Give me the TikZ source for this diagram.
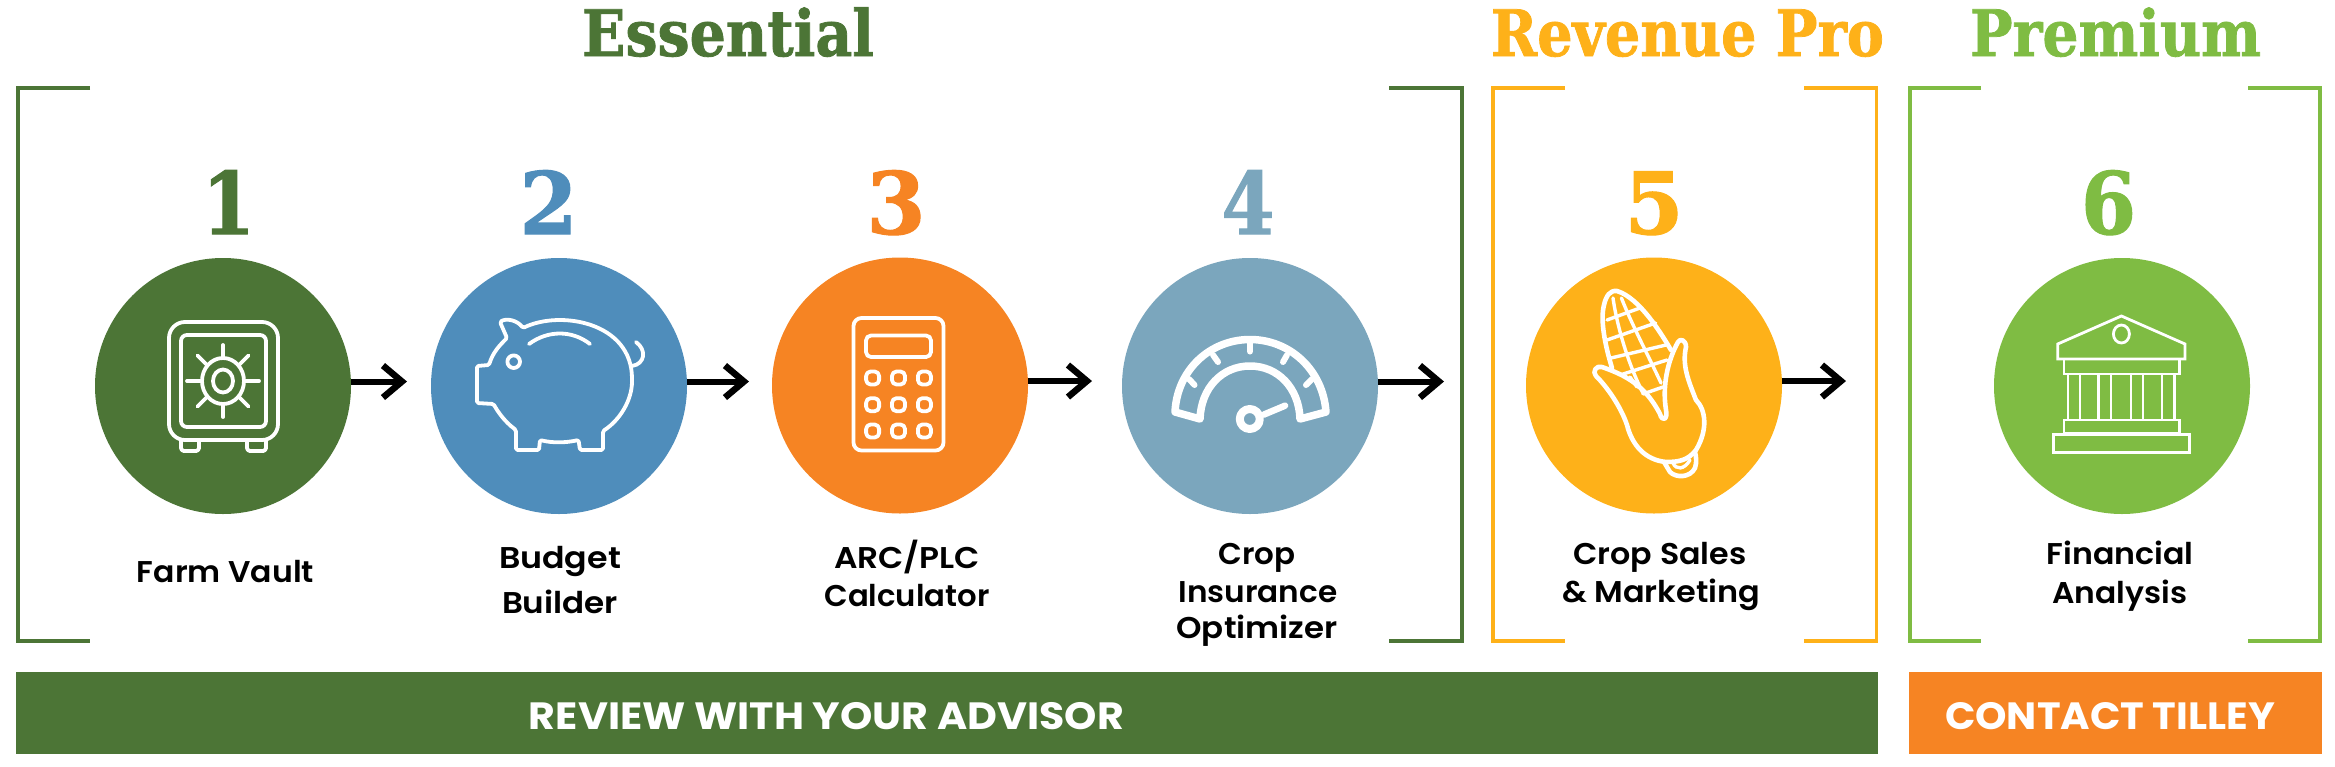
\documentclass[tikz,border=0pt]{standalone}
\usepackage{graphicx}
\usepackage{fontspec}
\usetikzlibrary{arrows.meta}
\newfontfamily\slab{DejaVu Serif Condensed}[BoldFeatures={FakeBold=1.2}]
\newfontfamily\lab{Poppins SemiBold}
\newfontfamily\barf{Poppins}
\definecolor{cgreen}{HTML}{4C7536}
\definecolor{cblue}{HTML}{4F8DBB}
\definecolor{corange}{HTML}{F68423}
\definecolor{csteel}{HTML}{7BA6BD}
\definecolor{camber}{HTML}{FEB119}
\definecolor{clime}{HTML}{7FBC43}
\newcommand{\fit}[2]{\resizebox{#1pt}{\height}{#2}}
\tikzset{
  disc/.style={circle,minimum size=256pt,inner sep=0pt,fill=#1},
  head/.style={inner sep=0pt,anchor=base,text=#1,font=\slab\bfseries\fontsize{64}{64}\selectfont},
  num/.style={inner sep=0pt,anchor=base,text=#1,font=\slab\bfseries\fontsize{86}{86}\selectfont},
  lbl/.style={inner sep=0pt,anchor=base,text=black,font=\lab\fontsize{30}{30}\selectfont},
  bartext/.style={inner sep=0pt,anchor=base,text=white,font=\barf\bfseries\fontsize{38}{38}\selectfont},
  barbox/.style={rectangle,inner sep=0pt,fill=#1},
  conn/.style={draw=black,line width=6pt,-{Straight Barb[length=19pt,width=32pt,line width=6.5pt]}},
  brk/.style={draw=#1,line width=3.8pt,miter limit=10},
  icon/.style={draw=white,line width=3.8pt,line join=round,line cap=round},
  iconb/.style={draw=white,line width=7.5pt,line join=round,line cap=round},
  grid/.style={draw=white,line width=3.4pt,line cap=round},
  corn/.style={draw=white,line width=4.6pt,line join=round,line cap=round},
  bank/.style={draw=white,line width=2.8pt,line join=miter},
}
\begin{document}
\begin{tikzpicture}[x=1pt,y=-1pt]
\useasboundingbox (0,0) rectangle (2335,766);
% headings
\node[head=cgreen] (hess) at (728,56) {\fit{292}{Essential}};
\node[head=camber] (hrev) at (1687.5,56) {\fit{393}{Revenue Pro}};
\node[head=clime] (hpre) at (2115.5,56) {\fit{291}{Premium}};
% brackets
\draw[brk=cgreen] (90,88) -- (18,88) -- (18,641) -- (90,641);
\draw[brk=cgreen] (1389,88) -- (1462,88) -- (1462,641) -- (1389,641);
\draw[brk=camber] (1565,88) -- (1493,88) -- (1493,641) -- (1565,641);
\draw[brk=camber] (1804,88) -- (1876.5,88) -- (1876.5,641) -- (1804,641);
\draw[brk=clime] (1981,88) -- (1910,88) -- (1910,641) -- (1981,641);
\draw[brk=clime] (2248,88) -- (2320,88) -- (2320,641) -- (2248,641);
% numbers
\node[num=cgreen] (n1) at (228.5,234) {\fit{53}{1}};
\node[num=cblue] (n2) at (548.5,234) {\fit{58}{2}};
\node[num=corange] (n3) at (896,234) {\fit{59}{3}};
\node[num=csteel] (n4) at (1248,234) {\fit{53}{4}};
\node[num=camber] (n5) at (1654,234) {\fit{59}{5}};
\node[num=clime] (n6) at (2108.5,234) {\fit{55}{6}};
% circles
\node[disc=cgreen] (c1) at (223,386) {};
\node[disc=cblue] (c2) at (559,386) {};
\node[disc=corange] (c3) at (900,385.5) {};
\node[disc=csteel] (c4) at (1250,386) {};
\node[disc=camber] (c5) at (1654,385.5) {};
\node[disc=clime] (c6) at (2122,386) {};
% connectors
\coordinate (t1) at (407,381.5);
\coordinate (t2) at (749,381.5);
\coordinate (t3) at (1092,381.5);
\coordinate (t4) at (1444,381.5);
\coordinate (t5) at (1846,381.5);
\draw[conn] (c1.2) -- (c1.2 -| t1);
\draw[conn] (c2.2) -- (c2.2 -| t2);
\draw[conn] (c3.2) -- (c3.2 -| t3);
\draw[conn] (c4.2) -- (c4.2 -| t4);
\draw[conn] (c5.2) -- (c5.2 -| t5);
% safe
\draw[icon] (169,322) [rounded corners=16pt] rectangle (278,440);
\draw[icon] (181,335) [rounded corners=6pt] rectangle (266,427);
\draw[icon] (223,381) ellipse [x radius=21,y radius=23];
\draw[icon] (223,381) ellipse [x radius=10,y radius=11.5];
\foreach \a in {0,45,...,315}{\draw[icon] (223,381)++(\a:23) -- ++(\a:13);}
\draw[icon,rounded corners=3pt] (181,440) -- (181,451) -- (199,451) -- (199,440);
\draw[icon,rounded corners=3pt] (247,440) -- (247,451) -- (266,451) -- (266,440);
% piggy
\draw[icon,rounded corners=1.5pt] (500,322) .. controls (506,318) and (517,320) .. (523,328)
 .. controls (560,310) and (632,322) .. (632,380)
 .. controls (632,400) and (620,420) .. (603,431) -- (603,450) -- (580,450) -- (578.5,440)
 .. controls (565,443) and (552,443) .. (540,440) -- (539,450) -- (516,450) -- (516,430)
 .. controls (505,422) and (498,412) .. (493.5,404) -- (477,403) -- (477,366) -- (489,365)
 .. controls (493,352) and (500,345) .. (507,338) -- cycle;
\draw[icon] (529,344) .. controls (548,330) and (572,330) .. (590,344);
\draw[icon] (513.7,361.7) circle [radius=6.3];
\draw[icon] (632,366) .. controls (645,364) and (647,350) .. (636,342);
% calculator
\draw[icon] (853.5,318) [rounded corners=8pt] rectangle (943.5,450.5);
\draw[icon] (866,335.5) [rounded corners=5pt] rectangle (931,357);
\foreach \x in {872.6,898.5,924.4}\foreach \y in {378,404.7,431}{
  \draw[icon] (\x-6.5,\y-6.5) [rounded corners=4.5pt] rectangle (\x+6.5,\y+6.5);}
% gauge
\draw[iconb] (1175,412) .. controls (1177,370) and (1210,339.5) .. (1250,339.5)
 .. controls (1290,339.5) and (1323,370) .. (1326,412)
 -- (1300,419) .. controls (1299,388) and (1278,366) .. (1250,366)
 .. controls (1222,366) and (1201,388) .. (1200,419) -- cycle;
\draw[icon,line width=6pt] (1250,343) -- (1250,351.5);
\draw[icon,line width=6pt] (1213,355) -- (1218,362);
\draw[icon,line width=6pt] (1287,355) -- (1283,362);
\draw[icon,line width=6pt] (1189,379) -- (1194.5,385);
\draw[icon,line width=6pt] (1312,379) -- (1306,385);
\draw[icon,line width=8pt] (1249.8,419) circle [radius=10];
\draw[icon,line width=6.5pt] (1264,414.5) -- (1285,405.7);
% corn
\draw[corn] (1612,368) .. controls (1605,345) and (1600,320) .. (1604,305)
 .. controls (1606,296) and (1610,290) .. (1617,291)
 .. controls (1640,298) and (1662,335) .. (1671,350);
\draw[corn] (1602,367) .. controls (1596,365) and (1592,372) .. (1596,376)
 .. controls (1610,390) and (1622,410) .. (1627,425)
 .. controls (1632,445) and (1645,460) .. (1666,462)
 .. controls (1680,462) and (1688,460) .. (1696,450)
 .. controls (1708,430) and (1706,410) .. (1696,400)
 .. controls (1688,380) and (1682,365) .. (1686,347)
 .. controls (1686,340) and (1680,338) .. (1678,342)
 .. controls (1668,360) and (1662,385) .. (1666,410)
 .. controls (1668,420) and (1662,422) .. (1660,414)
 .. controls (1645,385) and (1625,375) .. (1602,367);
\draw[corn] (1664,462) -- (1670,472) .. controls (1676,478) and (1690,478) .. (1695,468)
 .. controls (1697,462) and (1696,456) .. (1695,452);
\draw[grid] (1673,463) .. controls (1676,470) and (1684,470) .. (1690,460);
\draw[grid] (1607,320) -- (1640,308);
\draw[grid] (1607,340) -- (1655.6,323);
\draw[grid] (1611,358) -- (1666,345);
\draw[grid] (1620,375) -- (1667,360);
\draw[grid] (1643,394) -- (1663,387);
\draw[grid] (1613,298) .. controls (1616,320) and (1626,360) .. (1643,393);
\draw[grid] (1621.4,298) .. controls (1632,325) and (1648,355) .. (1661,383);
\draw[grid] (1630,377) -- (1637,387);
% bank
\draw[bank] (2121.4,316) -- (2185,344) -- (2185,359) -- (2057.7,359) -- (2057.7,344) -- cycle;
\draw[bank] (2121.4,334) ellipse [x radius=8,y radius=9];
\draw[bank] (2064,359) rectangle (2179.5,374);
\foreach \x in {2068,2080,2098.5,2111,2131,2143,2162,2174.5}{\draw[bank] (\x,374) -- (\x,420);}
\draw[bank] (2064,420) rectangle (2179.5,433);
\draw[bank] (2053.6,434.5) rectangle (2189.8,452.5);
% labels
\node[lbl] (l1) at (225.5,582) {\fit{177}{Farm Vault}};
\node[lbl] (l2a) at (560,568) {\fit{122}{Budget}};
\node[lbl] (l2b) at (560,613) {\fit{116}{Builder}};
\node[lbl] (l3a) at (907,568) {\fit{146}{ARC/PLC}};
\node[lbl] (l3b) at (907,606) {\fit{165}{Calculator}};
\node[lbl] (l4a) at (1257,564) {\fit{77}{Crop}};
\node[lbl] (l4b) at (1258,602) {\fit{159}{Insurance}};
\node[lbl] (l4c) at (1257,638) {\fit{161}{Optimizer}};
\node[lbl] (l5a) at (1660,564) {\fit{173}{Crop Sales}};
\node[lbl] (l5b) at (1661,602) {\fit{198}{\& Marketing}};
\node[lbl] (l6a) at (2120,564) {\fit{147}{Financial}};
\node[lbl] (l6b) at (2120,603) {\fit{135}{Analysis}};
% bars
\node[barbox=cgreen,minimum width=1862pt,minimum height=82pt] (b1) at (947,713) {};
\node[barbox=corange,minimum width=413pt,minimum height=82pt] (b2) at (2115.5,713) {};
\node[bartext] (bt1) at (826.5,729) {\fit{595}{REVIEW WITH YOUR ADVISOR}};
\node[bartext] (bt2) at (2110,729) {\fit{330}{CONTACT TILLEY}};
\end{tikzpicture}
\end{document}
